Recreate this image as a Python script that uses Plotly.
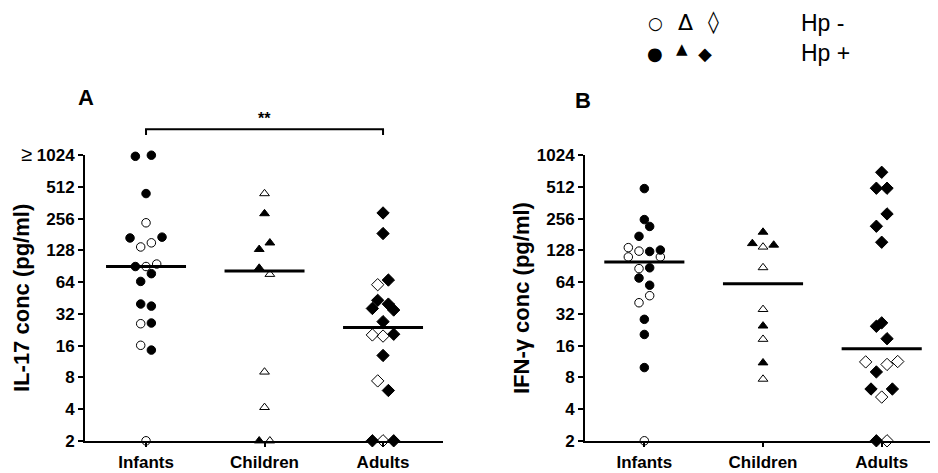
import numpy as np
import plotly.graph_objects as go

categories = ["Infants", "Children", "Adults"]
ytick_vals = [2, 4, 8, 16, 32, 64, 128, 256, 512, 1024]
ytick_text_A = ["2", "4", "8", "16", "32", "64", "128", "256", "512",
                "<span style='font-weight:normal;font-size:20px'>\u2265</span> 1024"]
ytick_text_B = ["2", "4", "8", "16", "32", "64", "128", "256", "512", "1024"]

# ---- Panel A: IL-17 (pg/ml); hp: 1 = Hp+, 0 = Hp-; slot = swarm column
il17_infants_val = [1000, 1024, 443, 234, 168, 171, 138, 151, 90, 90, 95, 77, 65, 39.7, 37.9, 25.8, 26.2, 16.1, 14.5, 2]
il17_infants_hp = [1, 1, 1, 0, 1, 1, 0, 0, 1, 0, 0, 1, 1, 1, 1, 0, 1, 0, 1, 0]
il17_infants_slot = [-2, 1, 0, 0, -3, 3, -1, 1, -2, 0, 2, 1, -1, -1, 1, -1, 1, -1, 1, 0]

il17_children_val = [443, 286, 151, 131, 87, 76, 9, 4.15, 2, 2]
il17_children_hp = [0, 1, 1, 1, 1, 0, 0, 0, 1, 0]
il17_children_slot = [0, 0, 1, -1, -1, 1, 0, 0, -1, 1]

il17_adults_val = [290, 185, 60.5, 67, 43, 36, 39.6, 34.8, 27, 20.2, 19.7, 20.5, 12.9, 7.4, 6.0, 2, 2, 2]
il17_adults_hp = [1, 1, 0, 1, 1, 1, 1, 1, 1, 0, 0, 1, 1, 0, 1, 1, 0, 1]
il17_adults_slot = [0, 0, -1, 1, -1, -2, 1, 2, 0, -2, 0, 2, 0, -1, 1, -2, 0, 2]

# ---- Panel B: IFN-gamma (pg/ml)
ifng_infants_val = [494, 251, 216, 174, 136, 126, 125, 129, 111, 111, 86, 87.5, 70, 59.8, 47.6, 40.8, 28.4, 20.4, 9.9, 2]
ifng_infants_hp = [1, 1, 1, 1, 0, 0, 1, 1, 0, 0, 0, 1, 1, 1, 0, 0, 1, 1, 1, 0]
ifng_infants_slot = [0, 0, 1, -1, -3, -1, 1, 3, -3, 3, -1, 1, -1, 1, 1, -1, 0, 0, 0, 0]

ifng_children_val = [191, 149, 138, 144, 88, 35.3, 24.6, 18.4, 11.0, 7.7]
ifng_children_hp = [1, 1, 0, 1, 0, 0, 1, 0, 1, 0]
ifng_children_slot = [0, -2, 0, 2, 0, 0, 0, 0, 0, 0]

ifng_adults_val = [705, 498, 498, 284, 217, 153, 24.4, 26.3, 18.6, 11.2, 10.6, 11.3, 9.0, 6.2, 6.2, 5.2, 2, 2]
ifng_adults_hp = [1, 1, 1, 1, 1, 1, 1, 1, 1, 0, 0, 0, 1, 1, 1, 0, 1, 0]
ifng_adults_slot = [0, -1, 1, 1, -1, 0, -1, 0, 1, -3, 1, 3, -1, -2, 2, 0, -1, 1]

FONT = "Liberation Sans, Arial, sans-serif"
SYMBOLS = ["circle", "triangle-up", "diamond"]
SIZES = [8.5, 8.5, 9.5]
SLOT_STEP = 0.045
HALF_MEDIAN = 0.3375

fig = go.Figure()

panels = [
    ("x", "y", [(il17_infants_val, il17_infants_hp, il17_infants_slot),
                (il17_children_val, il17_children_hp, il17_children_slot),
                (il17_adults_val, il17_adults_hp, il17_adults_slot)]),
    ("x2", "y2", [(ifng_infants_val, ifng_infants_hp, ifng_infants_slot),
                  (ifng_children_val, ifng_children_hp, ifng_children_slot),
                  (ifng_adults_val, ifng_adults_hp, ifng_adults_slot)]),
]

for xa, ya, groups in panels:
    for ci, (vals, hp, slot) in enumerate(groups):
        vals = np.array(vals, float)
        hp = np.array(hp)
        xs = ci + np.array(slot) * SLOT_STEP
        med = float(np.median(vals))
        fig.add_trace(go.Scatter(
            x=[ci - HALF_MEDIAN, ci + HALF_MEDIAN], y=[med, med], xaxis=xa, yaxis=ya,
            mode="lines", line=dict(color="black", width=3), showlegend=False,
            hoverinfo="skip"))
        for h in (0, 1):
            m = hp == h
            sym = SYMBOLS[ci] + ("" if h == 1 else "-open")
            fig.add_trace(go.Scatter(
                x=xs[m], y=vals[m], xaxis=xa, yaxis=ya, mode="markers",
                cliponaxis=False, showlegend=False,
                marker=dict(symbol=sym, size=SIZES[ci], color="black",
                            line=dict(color="black", width=1))))

# the page body adds an 8 px offset; work in reference pixels and convert
OFF = 8
W, H = 938 - OFF, 473 - OFF
def px(x):
    return (x - OFF) / W
def py(y):
    return (H - (y - OFF)) / H

common_x = dict(showline=True, linecolor="black", linewidth=2, ticks="outside",
                ticklen=4, tickwidth=2, tickcolor="black", tickvals=[0, 1, 2],
                ticktext=categories, showgrid=False, zeroline=False,
                tickfont=dict(family=FONT, size=17, color="black", weight="bold"),
                ticklabelstandoff=1, automargin=False)
common_y = dict(type="log", range=[np.log10(2) - 0.002, np.log10(1024) + 0.002], showline=True,
                linecolor="black", linewidth=2, ticks="outside", ticklen=5,
                tickwidth=2, tickcolor="black", tickvals=ytick_vals, showgrid=False,
                zeroline=False, automargin=False,
                tickfont=dict(family=FONT, size=17, color="black", weight="bold"))

fig.update_layout(
    width=W, height=H, margin=dict(l=0, r=0, t=0, b=0),
    paper_bgcolor="white", plot_bgcolor="white", showlegend=False,
    xaxis=dict(domain=[px(85), px(443)], range=[-0.515, 2.506], anchor="y", **common_x),
    yaxis=dict(domain=[py(441), py(155)], anchor="x", ticktext=ytick_text_A, **common_y),
    xaxis2=dict(domain=[px(585), min(1.0, px(937))], range=[-0.5, 2.466], anchor="y2", **common_x),
    yaxis2=dict(domain=[py(441), py(155)], anchor="x2", ticktext=ytick_text_B, **common_y),
)

def note(text, x, y, size, weight="normal", family=FONT, angle=0, xanchor="center", xref="paper"):
    fig.add_annotation(x=x if xref != "paper" else px(x), y=py(y), xref=xref, yref="paper",
                       text=text, showarrow=False, textangle=angle,
                       xanchor=xanchor, yanchor="middle",
                       font=dict(family=family, size=size, color="black", weight=weight))

# significance bracket
fig.add_shape(type="path", xref="x", yref="paper",
              path=f"M 0,{py(135)} L 0,{py(129.3)} L 2,{py(129.3)} L 2,{py(135)}",
              line=dict(color="black", width=2))
note("**", 1, 118, 16, "bold", xref="x")

# panel letters
note("A", 86, 97, 22, "bold")
note("B", 583, 100, 22, "bold")

# y-axis titles
note("IL-17 conc (pg/ml)", 21, 298, 22, "bold", angle=-90)
note("IFN-\u03b3 conc (pg/ml)", 521, 298, 22, "bold", angle=-90)

# key
key_glyphs = [("\u25cb", 655, 23, 17), ("\u0394", 685, 22, 22), ("\u25ca", 713, 22, 22),
              ("\u25cf", 655, 53, 18), ("\u25b2", 682, 49, 15), ("\u25c6", 705, 53, 18)]
for g, x, y, s in key_glyphs:
    note(g, x, y, s, family="DejaVu Sans, sans-serif")
note("Hp -", 799, 23, 23, xanchor="left")
note("Hp +", 799, 53, 23, xanchor="left")

fig.write_html("out.html")
